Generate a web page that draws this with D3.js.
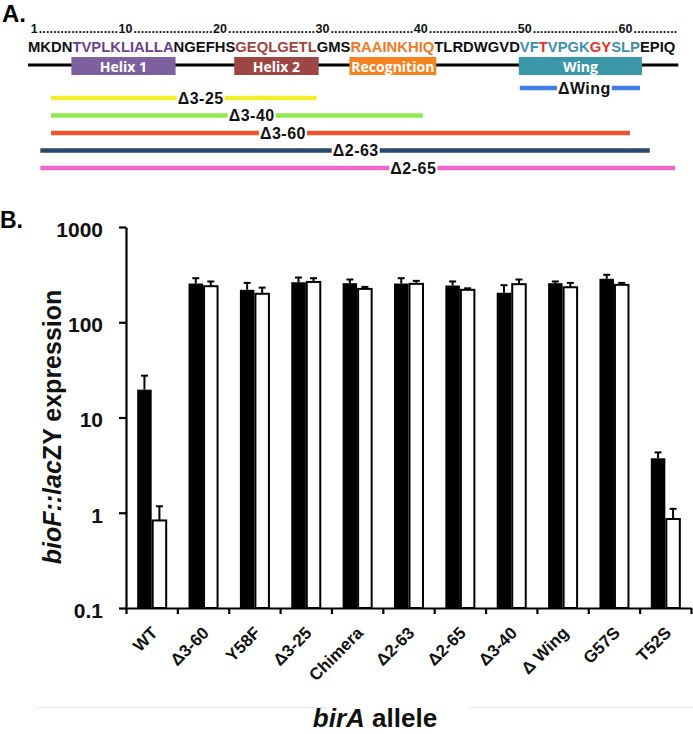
<!DOCTYPE html>
<html><head><meta charset="utf-8">
<script src="https://cdn.jsdelivr.net/npm/d3@7"></script>
<style>body{margin:0;background:#fff}svg{display:block}</style>
</head><body>
<svg id="c" width="693" height="734"></svg>
<script>
// ---------- Panel A data ----------
const sequence = "MKDNTVPLKLIALLANGEFHSGEQLGETLGMSRAAINKHIQTLRDWGVDVFTVPGKGYSLPEPIQ";
const numberedResidues = [1, 10, 20, 30, 40, 50, 60];
const regionNames = ["Helix 1", "Helix 2", "Recognition", "Wing"];
const regionStart = [5, 22, 33, 50];
const regionEnd = [15, 29, 41, 61];
const mutatedResidues = [52, 57, 58];
const deletionNames = ["Δ3-25", "Δ3-40", "Δ3-60", "Δ2-63", "Δ2-65"];
const deletionStart = [3, 3, 3, 2, 2];
const deletionEnd = [29, 40, 60, 62, 65];
const deletionLabelAt = [18, 23, 26, 33, 39];
const wingDeletionName = ["ΔWing"];
const wingDeletionStart = [50];
const wingDeletionEnd = [61];
const wingDeletionLabelAt = [56];

// ---------- Panel B data ----------
const alleles = ["WT", "Δ3-60", "Y58F", "Δ3-25", "Chimera", "Δ2-63", "Δ2-65", "Δ3-40", "Δ Wing", "G57S", "T52S"];
const solidValues = [19.6, 255, 219, 263, 257, 255, 243, 204, 257, 286, 3.73];
const solidErrors = [7.9, 35, 40, 32, 24, 35, 25, 41, 11, 29, 0.57];
const openValues = [0.83, 239, 199, 265, 224, 253, 219, 251, 233, 247, 0.86];
const openErrors = [0.34, 29, 32, 25, 11, 19, 8, 30, 26, 12, 0.24];
const yTickValues = [0.1, 1, 10, 100, 1000];
const yTickLabels = ["0.1", "1", "10", "100", "1000"];

// ---------- styles ----------
const FONT = "'Liberation Sans', Arial, Helvetica, sans-serif";
const regionFill = {"Helix 1": "#7d60a0", "Helix 2": "#9d4643", "Recognition": "#f6831f", "Wing": "#3a97a8"};
const regionText = {"Helix 1": "#6e3f8e", "Helix 2": "#9f453e", "Recognition": "#ee7b24", "Wing": "#3f8fab"};
const mutatedColor = "#e2322a";
const deletionColors = ["#f3ee2a", "#8fe84c", "#f1532f", "#27476c", "#ef66cf"];
const wingDeletionColor = "#3f7de2";

const svg = d3.select("#c");

// Panel letters
svg.append("text").attr("x", 2).attr("y", 22).text("A.")
  .attr("font-family", FONT).attr("font-weight", "bold").attr("font-size", 24);
svg.append("text").attr("x", 0).attr("y", 228).text("B.")
  .attr("font-family", FONT).attr("font-weight", "bold").attr("font-size", 23);

// ---------- Panel A ----------
const A = svg.append("g");
const residues = sequence.split("").map((ch, i) => ({ch, pos: i + 1}));
function residueColor(p) {
  if (mutatedResidues.includes(p)) return mutatedColor;
  for (let k = 0; k < regionNames.length; k++)
    if (p >= regionStart[k] && p <= regionEnd[k]) return regionText[regionNames[k]];
  return "#111";
}
const seqText = A.append("text").attr("x", 28).attr("y", 52)
  .attr("font-family", FONT).attr("font-weight", "bold").attr("font-size", 14.8);
seqText.selectAll("tspan").data(residues).join("tspan")
  .attr("fill", d => residueColor(d.pos)).text(d => d.ch);

const node = seqText.node();
const resL = residues.map((d, i) => node.getStartPositionOfChar(i).x);
const resR = residues.map((d, i) => node.getEndPositionOfChar(i).x);
const left = p => resL[p - 1], right = p => resR[p - 1], center = p => (resL[p - 1] + resR[p - 1]) / 2;

// numbers and dots row
const numG = A.append("g").attr("font-family", FONT).attr("font-weight", "bold").attr("font-size", 12.5).attr("fill", "#111");
const numNodes = numberedResidues.map(p =>
  numG.append("text").attr("x", center(p)).attr("y", 33).attr("text-anchor", "middle").text(String(p)).node());
const numBoxes = numNodes.map(n => n.getBBox());
const dotSpans = [];
for (let k = 0; k < numBoxes.length; k++) {
  const x0 = numBoxes[k].x + numBoxes[k].width + 1;
  const x1 = k + 1 < numBoxes.length ? numBoxes[k + 1].x - 0.5 : right(sequence.length) + 2;
  dotSpans.push([x0, x1]);
}
dotSpans.forEach(([x0, x1]) => {
  const n = Math.max(1, Math.round((x1 - x0) / 3.55));
  numG.append("text").attr("x", x0).attr("y", 33)
    .attr("textLength", x1 - x0).attr("lengthAdjust", "spacing").text(".".repeat(n));
});

// backbone
A.append("line").attr("x1", left(1)).attr("x2", right(sequence.length) + 3)
  .attr("y1", 65).attr("y2", 65).attr("stroke", "#000").attr("stroke-width", 3);

// region boxes
regionNames.forEach((name, k) => {
  const x0 = left(regionStart[k]) - 1, x1 = right(regionEnd[k]) + 2;
  A.append("rect").attr("x", x0).attr("y", 57).attr("width", x1 - x0).attr("height", 18)
    .attr("fill", regionFill[name]);
  A.append("text").attr("x", (x0 + x1) / 2).attr("y", 71.5).attr("text-anchor", "middle")
    .attr("font-family", "'Open Sans', " + FONT).attr("font-weight", "bold").attr("font-size", 14)
    .attr("fill", "#fff").text(name);
});

// deletion bars
function drawDeletion(name, s, e, labelAt, y, color) {
  A.append("line").attr("x1", left(s)).attr("x2", right(e)).attr("y1", y).attr("y2", y)
    .attr("stroke", color).attr("stroke-width", 4.5);
  const t = A.append("text").attr("x", center(labelAt)).attr("y", y).attr("dy", "0.36em")
    .attr("text-anchor", "middle").attr("font-family", FONT).attr("font-weight", "bold")
    .attr("font-size", 16).attr("letter-spacing", 0.5).attr("fill", "#111").text(name);
  const b = t.node().getBBox();
  A.insert("rect", () => t.node()).attr("x", b.x - 1).attr("y", y - 4).attr("width", b.width + 2)
    .attr("height", 8).attr("fill", "#fff");
}
const yDel = d3.scalePoint().domain(deletionNames).range([98, 168]);
deletionNames.forEach((name, k) =>
  drawDeletion(name, deletionStart[k], deletionEnd[k], deletionLabelAt[k], yDel(name), deletionColors[k]));
wingDeletionName.forEach((name, k) =>
  drawDeletion(name, wingDeletionStart[k], wingDeletionEnd[k], wingDeletionLabelAt[k], 88, wingDeletionColor));

// ---------- Panel B ----------
const plotL = 126, plotR = 691, plotT = 227, plotB = 608;
const x0 = d3.scaleBand().domain(alleles).range([plotL, plotR]).paddingInner(0).paddingOuter(0);
const x1 = d3.scaleBand().domain(["solid", "open"]).range([0, x0.bandwidth()]).paddingInner(0).paddingOuter(0.77);
const xIdx = d3.scaleLinear().domain([0, alleles.length]).range([plotL, plotR]);
const y = d3.scaleLog().domain([0.1, 1000]).range([plotB, plotT]);

const B = svg.append("g");
const rows = alleles.map((a, i) => ({a, solid: solidValues[i], solidErr: solidErrors[i], open: openValues[i], openErr: openErrors[i]}));

// bars
const grp = B.selectAll("g.bars").data(rows).join("g").attr("class", "bars")
  .attr("transform", d => `translate(${x0(d.a)},0)`);
grp.append("rect").attr("x", x1("solid")).attr("width", x1.bandwidth())
  .attr("y", d => y(d.solid)).attr("height", d => y(0.1) - y(d.solid)).attr("fill", "#000");
grp.append("rect").attr("x", x1("open") + 1).attr("width", x1.bandwidth() - 1)
  .attr("y", d => y(d.open)).attr("height", d => y(0.1) - y(d.open))
  .attr("fill", "#fff").attr("stroke", "#000").attr("stroke-width", 2);
// error bars
[["solid", "solidErr"], ["open", "openErr"]].forEach(([k, e]) => {
  const cx = x1(k) + x1.bandwidth() / 2 + (k === "open" ? 0.5 : 0);
  grp.append("line").attr("x1", cx).attr("x2", cx)
    .attr("y1", d => y(d[k])).attr("y2", d => y(d[k] + d[e])).attr("stroke", "#000").attr("stroke-width", 2);
  grp.append("line").attr("x1", cx - 3.5).attr("x2", cx + 3.5)
    .attr("y1", d => y(d[k] + d[e])).attr("y2", d => y(d[k] + d[e])).attr("stroke", "#000").attr("stroke-width", 2);
});

// y axis
const yAxis = B.append("g").attr("transform", `translate(${plotL},0)`)
  .call(d3.axisLeft(y).tickValues(yTickValues).tickFormat((d, i) => yTickLabels[i]).tickSize(7).tickSizeOuter(0).tickPadding(16));
// x axis
const xAxis = B.append("g").attr("transform", `translate(0,${plotB})`)
  .call(d3.axisBottom(xIdx).tickValues(d3.range(alleles.length + 1)).tickFormat("").tickSize(6).tickSizeOuter(0));
[yAxis, xAxis].forEach(ax => {
  ax.select(".domain").attr("stroke", "#000").attr("stroke-width", 2.2);
  ax.selectAll(".tick line").attr("stroke", "#000").attr("stroke-width", 2.2);
});
yAxis.selectAll(".tick text").attr("font-family", FONT).attr("font-weight", "bold")
  .attr("font-size", 21).attr("fill", "#111").attr("dy", "0.45em");

// category labels rotated 45°
const labG = B.selectAll("g.catlab").data(alleles).join("g").attr("class", "catlab")
  .attr("transform", d => `translate(${x0(d) + x0.bandwidth() / 2 + 7},${plotB + 26})`);
labG.append("text").attr("transform", "rotate(-45)")
  .attr("text-anchor", "end").attr("font-family", FONT).attr("font-weight", "bold")
  .attr("font-size", 17).attr("fill", "#111").text(d => d);

// axis titles
const yt = B.append("text").attr("transform", "translate(61,427) rotate(-90)").attr("text-anchor", "middle")
  .attr("font-family", FONT).attr("font-weight", "bold").attr("font-size", 25).attr("fill", "#111");
yt.append("tspan").attr("font-style", "italic").text("bioF::lac");
yt.append("tspan").text("ZY expression");
const xt = B.append("text").attr("x", 375).attr("y", 727).attr("text-anchor", "middle")
  .attr("font-family", FONT).attr("font-weight", "bold").attr("font-size", 26).attr("fill", "#111");
xt.append("tspan").attr("font-style", "italic").text("birA");
xt.append("tspan").text(" allele");

// faint separator
[[37, 327], [470, 693]].forEach(([a, b]) =>
  svg.append("line").attr("x1", a).attr("x2", b).attr("y1", 707.5).attr("y2", 707.5)
    .attr("stroke", "#e6e6e6").attr("stroke-width", 1));
</script>
</body></html>
